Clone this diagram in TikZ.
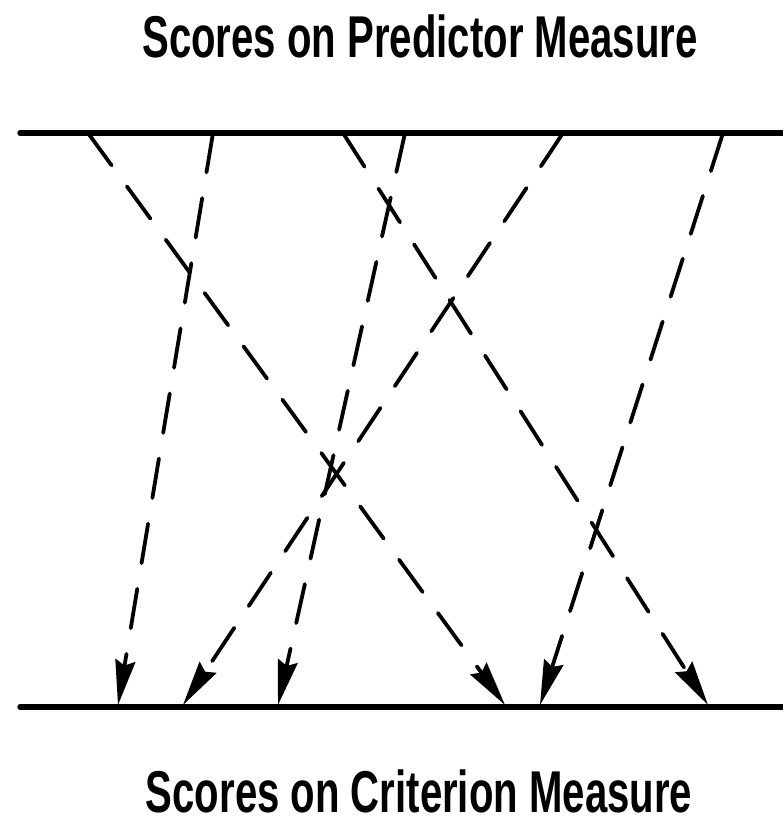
\documentclass[tikz,border=0pt]{standalone}
\usepackage{fontspec}
\setmainfont{Liberation Sans}[FakeStretch=0.68]
\usetikzlibrary{arrows.meta}

\begin{document}
\begin{tikzpicture}[x=1pt, y=-1pt,
    scale line/.style={line width=5.5pt, line cap=round},
    link/.style={line width=3.8pt, line cap=round, dash pattern=on 40pt off 26pt,
      -{Stealth[length=45pt, width=20pt, inset=5pt]}},
    title/.style={anchor=base, inner sep=0pt, font=\fontsize{59}{60}\selectfont\bfseries}]
  \useasboundingbox (0,0) rectangle (783,822);
  \node[title] (predictor) at (420,57) {Scores on Predictor Measure};
  \node[title] (criterion) at (419,812) {Scores on Criterion Measure};
  % the two score scales
  \coordinate (pl) at (20,133);  \coordinate (pr) at (786,133);
  \coordinate (cl) at (20,707);  \coordinate (cr) at (786,707);
  \draw[scale line] (pl) -- (pr);
  \draw[scale line] (cl) -- (cr);
  % points on each scale
  \foreach \i/\x in {1/88, 2/213, 3/343, 4/405, 5/563, 6/723}
    \coordinate (p\i) at (\x,133);
  \foreach \i/\x in {1/118, 2/183, 3/278, 4/505, 5/540, 6/708}
    \coordinate (c\i) at (\x,705);
  % predictor score -> criterion score
  \foreach \a/\b in {1/4, 2/1, 3/6, 4/3, 5/2, 6/5}
    \draw[link] (p\a) -- (c\b);
\end{tikzpicture}
\end{document}
